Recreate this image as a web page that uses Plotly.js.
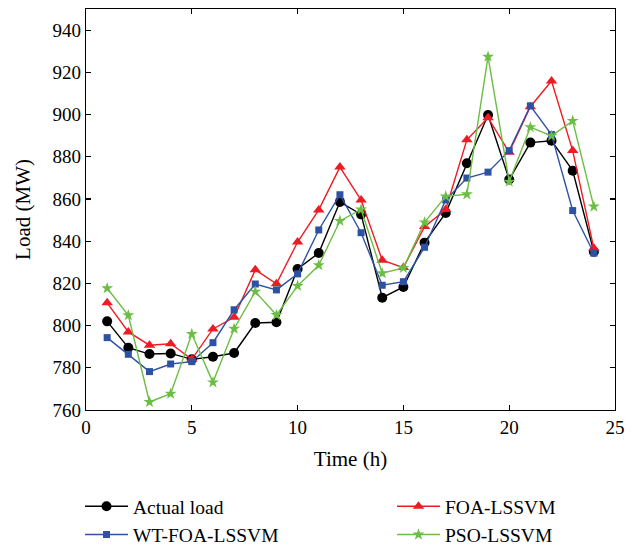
<!DOCTYPE html>
<html>
<head>
<meta charset="utf-8">
<script src="https://cdn.plot.ly/plotly-3.0.1.min.js"></script>
<style>
  html, body { margin: 0; padding: 0; background: #fff; }
  #chart { width: 638px; height: 545px; }
</style>
</head>
<body>
<div id="chart"></div>
<script>
// Hourly load (MW): actual values and three forecasting models
const hours = [1, 2, 3, 4, 5, 6, 7, 8, 9, 10, 11, 12, 13, 14, 15, 16, 17, 18, 19, 20, 21, 22, 23, 24];

const actualLoad = [802, 789.5, 786.5, 786.8, 784, 785.2, 787, 801.2, 801.6, 826.8, 834.4, 858.6, 852.7, 813.2, 818.3, 839.3, 853.4, 876.9, 899.8, 869.2, 886.7, 887.6, 873.4, 835];
const foaLssvm   = [810.8, 797, 790.7, 791.4, 784, 798.4, 803.9, 826.4, 819.8, 839.6, 854.8, 875.1, 859.5, 831, 827.5, 846.9, 855, 888, 898.5, 882.1, 903.7, 915.9, 882.9, 836.6];
const wtFoaLssvm = [794.3, 786.4, 778.2, 781.8, 782.9, 791.9, 807.5, 819.7, 816.9, 824.5, 845.3, 862, 844, 819.1, 820.8, 837.1, 859.5, 869.9, 872.7, 882.9, 904.1, 890.5, 854.5, 834.3];
const psoLssvm   = [817.7, 804.9, 763.8, 767.7, 796, 773.1, 798.5, 816.1, 805, 818.8, 828.6, 849.6, 855, 824.8, 827.3, 848.9, 861.2, 862.2, 927.4, 868.2, 894, 889.9, 897, 856.4];

const xTicks = [0, 5, 10, 15, 20, 25];
const yTicks = [760, 780, 800, 820, 840, 860, 880, 900, 920, 940];

const serif = 'Liberation Serif, Times New Roman, serif';

// plot area in pixels
const W = 638, H = 545, ML = 86, MR = 23, MT = 9, MB = 135;
const plotW = W - ML - MR;

function series(name, y, color, symbol, size, legendId) {
  return {
    type: 'scatter', mode: 'lines+markers', name: name,
    x: hours, y: y,
    legend: legendId, legendgroup: name,
    line: { color: color, width: 1.4 },
    marker: { color: color, symbol: symbol, size: size, line: { width: 0 } }
  };
}

const traces = [
  series('Actual load', actualLoad, '#000000', 'circle', 10, 'legend'),
  series('FOA-LSSVM', foaLssvm, '#ed1c24', 'triangle-up', 10, 'legend2'),
  series('WT-FOA-LSSVM', wtFoaLssvm, '#2e52a3', 'square', 7, 'legend'),
  series('PSO-LSSVM', psoLssvm, '#6cbd45', 'star', 9, 'legend2')
];

const axisCommon = {
  showgrid: false, zeroline: false,
  showline: true, linecolor: '#000', linewidth: 1.2,
  mirror: 'ticks', ticks: 'inside', ticklen: 5, tickwidth: 1.2, tickcolor: '#000',
  tickfont: { family: serif, size: 19, color: '#000' }
};

const legendCommon = {
  orientation: 'v', xref: 'paper', yref: 'container',
  xanchor: 'left', yanchor: 'top', y: 1 - 487 / H,
  font: { family: serif, size: 19.5, color: '#000' },
  bgcolor: 'rgba(0,0,0,0)', tracegroupgap: 0, itemwidth: 43
};

const layout = {
  width: W, height: H,
  margin: { l: ML, r: MR, t: MT, b: MB },
  paper_bgcolor: '#fff', plot_bgcolor: '#fff',
  showlegend: true,
  xaxis: Object.assign({}, axisCommon, {
    range: [0, 25], tickvals: xTicks, ticktext: xTicks.map(String),
    title: { text: 'Time (h)', font: { family: serif, size: 21, color: '#000' }, standoff: 14 }
  }),
  yaxis: Object.assign({}, axisCommon, {
    range: [760, 950], tickvals: yTicks, ticktext: yTicks.map(String),
    title: { text: 'Load (MW)', font: { family: serif, size: 21, color: '#000' }, standoff: 16 }
  }),
  legend: Object.assign({}, legendCommon, { x: (80 - ML) / plotW }),
  legend2: Object.assign({}, legendCommon, { x: (392 - ML) / plotW })
};

Plotly.newPlot('chart', traces, layout, { displayModeBar: false, staticPlot: true });
</script>
</body>
</html>
